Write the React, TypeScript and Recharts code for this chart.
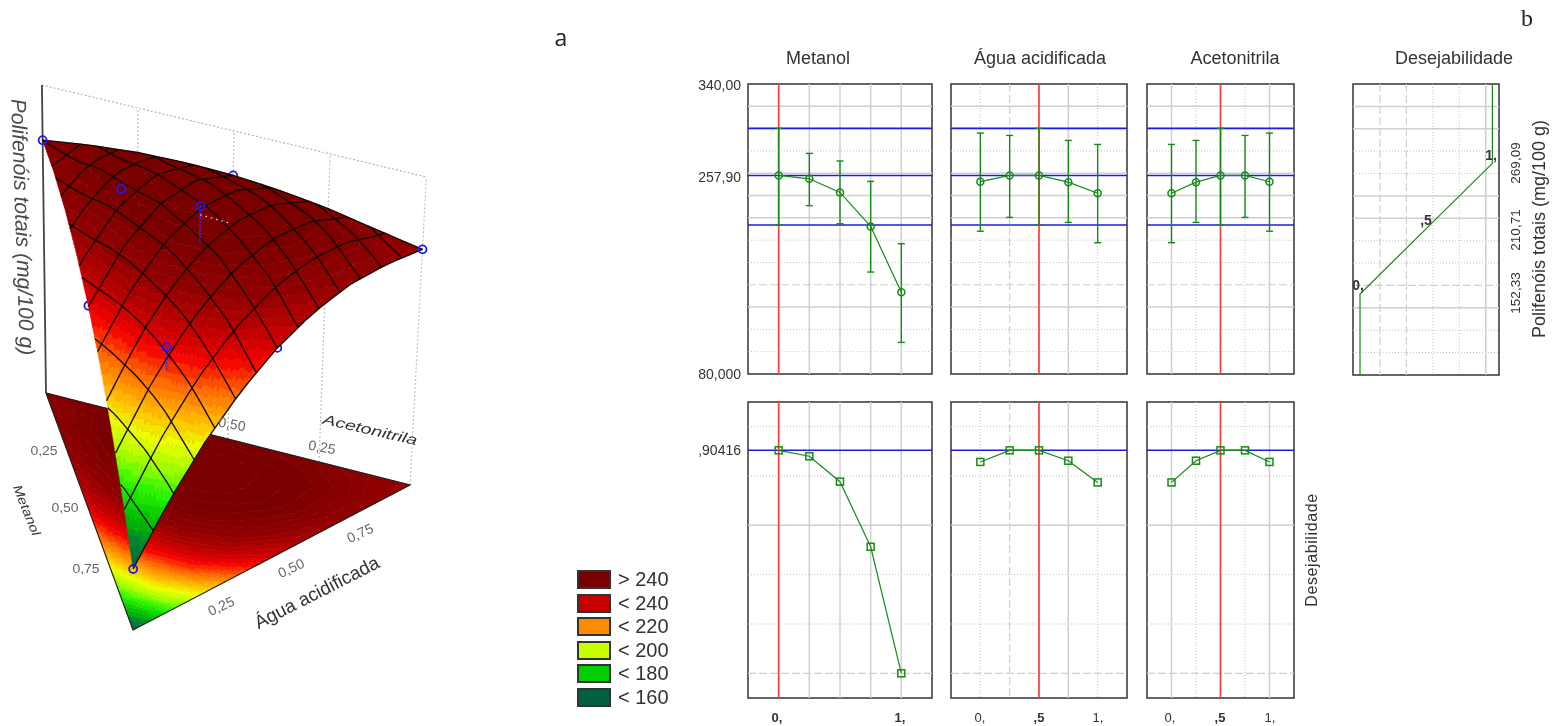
import React from "react";
import {
  ComposedChart, ScatterChart, Scatter, Line, ErrorBar, XAxis, YAxis, ReferenceLine, ReferenceArea,
} from "recharts";

// ---------- profile data ----------
const levels = [0, 0.25, 0.5, 0.75, 1];
const metanolMean = [258, 255, 242.8, 212.3, 153.2];
const metanolLow = [213.6, 230.9, 214.7, 171.4, 108.3];
const metanolHigh = [300.2, 277.8, 271, 252.7, 196.8];
const aguaMean = [252.4, 258, 258, 252, 242];
const aguaLow = [208, 220.4, 213.6, 215.9, 197.7];
const aguaHigh = [296, 293.9, 300.2, 289.4, 285.8];
const acetoMean = [242, 252, 258, 258, 252.4];
const acetoLow = [197.7, 215.9, 213.6, 220.4, 208];
const acetoHigh = [285.8, 289.4, 300.2, 293.9, 296];
const desMetanol = [0.904, 0.88, 0.777, 0.513, 0];
const desAgua = [0.857, 0.904, 0.904, 0.862, 0.774];
const desAceto = [0.774, 0.862, 0.904, 0.904, 0.857];
const desCurveD = [1, 1, 0, 0];
const desCurveV = [340, 269.09, 152.33, 80];
const blueLevels = [300.2, 257.9, 213.6];
const desTarget = 0.90416;
const topTicks = [320, 300, 280, 260, 240, 220, 200, 180, 160, 140, 120, 100];
const topTickStyles = ["s", "s", "o", "s", "s", "s", "o", "o", "d", "s", "o", "o"];
const lowTicks = [1, 0.8, 0.6, 0.4, 0.2, 0];
const lowTickStyles = ["o", "o", "s", "o", "o", "d"];
const metanolXStyles = ["n", "s", "s", "s", "s"];
const aguaXStyles = ["o", "d", "n", "s", "o"];
const acetoXStyles = ["s", "o", "n", "o", "s"];
const desXTicks = [0.15, 0.35, 0.55, 0.75, 0.95];
const desXStyles = ["d", "d", "o", "o", "s"];

// ---------- surface data: polyphenols by metanol row (eighths), água rising along the row ----------
const surfaceRows = [
  [252.4, 255.8, 257.9, 258.6, 258, 256, 252.7, 248, 243.5],
  [250.9, 258.4, 263, 265, 264.1, 260.5, 254.2, 245.1],
  [246.3, 256.3, 262.2, 263.9, 261.5, 254.9, 244.1],
  [238.6, 249.8, 255.5, 255.6, 250.1, 239.1],
  [227.7, 238.7, 242.8, 239.9, 230],
  [213.7, 223.1, 224.2, 216.8],
  [196.6, 203, 199.6],
  [176.4, 178.3],
  [153],
];
// metanol, água, acetonitrila, value
const pointsBehind = [[0, 0.5, 0.5, 258], [0.5, 0, 0.5, 228], [0.5, 0.5, 0, 230]];
const pointsFront = [
  [0, 0, 1, 252.4], [0.167, 0.167, 0.666, 255.6], [0.333, 0.333, 0.334, 275],
  [0, 1, 0, 243.5], [0.667, 0.167, 0.166, 235], [1, 0, 0, 153],
];
const stems = [
  [[0.333, 0.333, 0.334, 275], [0.333, 0.333, 0.334, 256]],
  [[0.667, 0.167, 0.166, 235], [0.667, 0.167, 0.166, 223]],
];
const whiteDots = [[0.333, 0.333, 0.334, 270.5], [0.1, 0.47, 0.43, 244]];
const legendLabels = ["> 240", "< 240", "< 220", "< 200", "< 180", "< 160"];
const legendColors = ["#7a0000", "#c80000", "#ff8a00", "#c8ff00", "#00d000", "#006040"];

// ---------- projection & colour ----------
const Z0 = 121.4, ZK = 1.93, ZTOP = 281;
function project(m: number, a: number, c: number, z: number) {
  const bx = c * 46 + a * 410 + m * 133;
  const by = c * 393 + a * 485 + m * 630;
  const h = (z - Z0) * ZK;
  return { x: bx + (bx - 119) * h * 1.82e-4, y: by - h };
}
function valueAt(m0: number, a0: number) {
  const u = Math.max(0, Math.min(m0 * 8, 8)), v = Math.max(0, Math.min(a0 * 8, 8 - Math.max(0, Math.min(m0 * 8, 8))));
  const i = Math.min(Math.floor(u), 8), j = Math.min(Math.floor(v), 8 - i);
  const g = (p: number, q: number) => surfaceRows[p][q];
  if (i + j >= 8) return g(i, j);
  const fu = u - i, fv = v - j;
  if (fu + fv <= 1 || i + j + 2 > 8) return g(i, j) + fu * (g(i + 1, j) - g(i, j)) + fv * (g(i, j + 1) - g(i, j));
  return g(i + 1, j + 1) + (1 - fu) * (g(i, j + 1) - g(i + 1, j + 1)) + (1 - fv) * (g(i + 1, j) - g(i + 1, j + 1));
}
const colorStops: [number, number[]][] = [
  [148, [0, 90, 64]], [160, [0, 120, 60]], [170, [0, 190, 0]], [180, [40, 245, 0]], [190, [170, 255, 0]],
  [198, [235, 255, 0]], [206, [255, 190, 0]], [216, [255, 110, 0]], [226, [245, 0, 0]], [236, [185, 0, 0]],
  [246, [145, 0, 0]], [258, [122, 0, 0]],
];
function colorFor(v: number) {
  if (v <= colorStops[0][0]) return `rgb(${colorStops[0][1].join(",")})`;
  for (let k = 1; k < colorStops.length; k++) {
    if (v <= colorStops[k][0]) {
      const [a, ca] = colorStops[k - 1], [b, cb] = colorStops[k];
      const t = (v - a) / (b - a);
      return `rgb(${ca.map((x, n) => Math.round(x + (cb[n] - x) * t)).join(",")})`;
    }
  }
  return "rgb(122,0,0)";
}
function buildBands(flat: boolean) {
  const N = 88, STEP = 3;
  const bands = new Map<number, string[]>();
  const node = (i: number, j: number) => {
    const m = i / N, a = j / N, c = 1 - m - a;
    const p = project(m, a, c, flat ? Z0 : valueAt(m, a));
    return `${p.x.toFixed(1)} ${p.y.toFixed(1)}`;
  };
  const add = (t: number[][]) => {
    const v = t.reduce((s, q) => s + valueAt(q[0] / N, q[1] / N), 0) / 3;
    const q = Math.round(v / STEP) * STEP;
    if (!bands.has(q)) bands.set(q, []);
    bands.get(q)!.push(`M${node(t[0][0], t[0][1])}L${node(t[1][0], t[1][1])}L${node(t[2][0], t[2][1])}Z`);
  };
  for (let i = 0; i < N; i++) for (let j = 0; j < N - i; j++) {
    add([[i, j], [i + 1, j], [i, j + 1]]);
    if (i + j + 2 <= N) add([[i + 1, j], [i + 1, j + 1], [i, j + 1]]);
  }
  return [...bands.entries()].sort((p, q) => p[0] - q[0]).map(([v, d]) => ({ x: 0, y: 0, d: d.join(""), fill: colorFor(v) }));
}
const baseBands = buildBands(true);
const surfaceBands = buildBands(false);

function meshLines() {
  const out: { x: number; y: number }[][] = [];
  for (let n = 0; n <= 9; n++) {
    const c = n / 10, pts = [];
    for (let s = 0; s <= 20; s++) {
      const m = ((1 - c) * s) / 20, a = 1 - c - m;
      pts.push(project(m, a, c, valueAt(m, a)));
    }
    out.push(pts);
  }
  for (let n = -6; n <= 6; n++) {
    const v = n / 7, pts = [];
    for (let s = 0; s <= 20; s++) {
      const c = ((1 - Math.abs(v)) * s) / 20, m = (1 - c + v) / 2, a = (1 - c - v) / 2;
      pts.push(project(m, a, c, valueAt(m, a)));
    }
    out.push(pts);
  }
  const edge = [];
  for (let s = 0; s <= 20; s++) { const a = s / 20; edge.push(project(0, a, 1 - a, valueAt(0, a))); }
  out.push(edge);
  return out;
}
const mesh = meshLines();
const W3 = 540, H3 = 726;
const noDot = () => <g />;
const bandShape = (p: any) => (
  <path d={p.payload.d} fill={p.payload.fill} stroke={p.payload.fill} strokeWidth={0.5} transform={`translate(${p.cx} ${p.cy})`} />
);
const ringShape = (p: any) => <circle cx={p.cx} cy={p.cy} r={4} fill="none" stroke="#1c1cf0" strokeWidth={1.8} />;
const asP = (q: number[]) => project(q[0], q[1], q[2], q[3]);
const wallAgua = [0.25, 0.5, 0.75, 1];

function Surface3D() {
  const seg = (pts: { x: number; y: number }[], stroke: string, w: number, dash?: string, key?: any) => (
    <Scatter key={key} data={pts} shape={noDot} isAnimationActive={false} lineType="joint"
      line={{ stroke, strokeWidth: w, strokeDasharray: dash }} />
  );
  return (
    <ScatterChart width={W3} height={H3} margin={{ top: 0, right: 0, bottom: 0, left: 0 }} style={{ position: "absolute", left: 0, top: 0 }}>
      <XAxis type="number" dataKey="x" domain={[0, W3]} hide />
      <YAxis type="number" dataKey="y" domain={[0, H3]} reversed hide />
      {seg([project(0, 0, 1, ZTOP), project(0, 1, 0, ZTOP)], "#b5b5b5", 1.2, "2 2", "walltop")}
      {wallAgua.map((a) => seg([project(0, a, 1 - a, Z0), project(0, a, 1 - a, ZTOP)], "#c0c0c0", 1.2, "2 2", "w" + a))}
      {seg([project(0, 0, 1, Z0), project(0, 0, 1, ZTOP)], "#444", 1.8, undefined, "zaxis")}
      <Scatter data={baseBands} shape={bandShape} isAnimationActive={false} />
      {seg([project(0, 0, 1, Z0), project(0, 1, 0, Z0), project(1, 0, 0, Z0), project(0, 0, 1, Z0)], "#222", 1.2, undefined, "baseedge")}
      <Scatter data={pointsBehind.map(asP)} shape={ringShape} isAnimationActive={false} />
      <Scatter data={surfaceBands} shape={bandShape} isAnimationActive={false} />
      {mesh.map((pts, i) => seg(pts, "rgba(15,8,0,0.95)", 1.4, undefined, "m" + i))}
      {stems.map((s, i) => seg(s.map(asP), "#3a2ad8", 1.5, "2 1", "st" + i))}
      {seg(whiteDots.map(asP), "#f4e4e4", 1.2, "1.5 4", "white")}
      <Scatter data={pointsFront.map(asP)} shape={ringShape} isAnimationActive={false} />
    </ScatterChart>
  );
}

// ---------- profile panels ----------
const GREEN = "#178a17";
const gridStyle = (k: string) =>
  k === "s" ? { stroke: "#cfcfcf", strokeWidth: 1.5 }
    : k === "d" ? { stroke: "#cfcfcf", strokeWidth: 1.2, strokeDasharray: "8 3" }
      : { stroke: "#c4c4c4", strokeWidth: 1, strokeDasharray: "1 2" };
const circleDot = (p: any) => <circle key={p.index} cx={p.cx} cy={p.cy} r={3.5} fill="none" stroke={GREEN} strokeWidth={1.5} />;
const squareDot = (p: any) => <rect key={p.index} x={p.cx - 3.5} y={p.cy - 3.5} width={7} height={7} fill="none" stroke={GREEN} strokeWidth={1.5} />;

function Panel(props: any) {
  const { left, top, width, height, yDomain, yTicks, yStyles, xDomain, xTicks, xStyles, red, blues, data, dataX, dataY, err, square, topMarks, dot } = props;
  const L = 2, R = 2 + width;
  const yTick = (p: any) => (
    <g stroke="#333" strokeWidth={1}>
      <line x1={L} x2={L + 3} y1={p.y} y2={p.y} />
      <line x1={R - 3} x2={R} y1={p.y} y2={p.y} />
    </g>
  );
  const xTick = (p: any) => topMarks ? <line x1={p.x} x2={p.x} y1={2} y2={5} stroke="#333" /> : <g />;
  return (
    <ComposedChart width={width + 4} height={height + 4} data={data} margin={{ top: 2, right: 2, bottom: 2, left: 2 }}
      style={{ position: "absolute", left: left - 2, top: top - 2 }}>
      <XAxis type="number" dataKey={dataX} domain={xDomain} ticks={xTicks} orientation="top" height={0} axisLine={false} tickLine={false} tick={xTick} allowDataOverflow interval={0} />
      <YAxis type="number" domain={yDomain} ticks={yTicks} width={0} axisLine={false} tickLine={false} tick={yTick} allowDataOverflow interval={0} />
      {yTicks.map((v: number, i: number) => <ReferenceLine key={"y" + i} y={v} {...gridStyle(yStyles[i])} />)}
      {xTicks.map((v: number, i: number) => xStyles[i] === "n" ? null : <ReferenceLine key={"x" + i} x={v} {...gridStyle(xStyles[i])} />)}
      {blues.map((v: number, i: number) => <ReferenceLine key={"b" + i} y={v} stroke="#1c1ce6" strokeWidth={1.6} />)}
      {red !== undefined && <ReferenceLine x={red} stroke="#ff3a3a" strokeWidth={1.7} />}
      <Line dataKey={dataY} stroke={GREEN} strokeWidth={1.2} isAnimationActive={false}
        dot={dot === false ? false : square ? squareDot : circleDot}>
        {err && <ErrorBar dataKey="err" width={3.5} stroke={GREEN} strokeWidth={1.4} isAnimationActive={false} />}
      </Line>
      <ReferenceArea x1={xDomain[0]} x2={xDomain[1]} y1={yDomain[0]} y2={yDomain[1]} fill="none" stroke="#333" strokeWidth={1.5} />
    </ComposedChart>
  );
}
const profile = (mean: number[], low: number[], high: number[]) =>
  levels.map((x, i) => ({ x, v: mean[i], err: [mean[i] - low[i], high[i] - mean[i]] }));
const desRow = (vals: number[]) => levels.map((x, i) => ({ x, v: vals[i] }));
const desCurve = desCurveD.map((x, i) => ({ x, v: desCurveV[i] }));

const columns = [
  { left: 748, width: 184, red: 0, xs: metanolXStyles, mean: metanolMean, low: metanolLow, high: metanolHigh, des: desMetanol },
  { left: 951, width: 176, red: 0.5, xs: aguaXStyles, mean: aguaMean, low: aguaLow, high: aguaHigh, des: desAgua },
  { left: 1147, width: 147, red: 0.5, xs: acetoXStyles, mean: acetoMean, low: acetoLow, high: acetoHigh, des: desAceto },
];

// ---------- text ----------
function T({ x, y, r = 0, size = 14, color = "#333", anchor = "c", style, children }: any) {
  const tx = anchor === "r" ? "-100%" : anchor === "l" ? "0" : "-50%";
  return (
    <span style={{ position: "absolute", left: x, top: y, fontSize: size, color, whiteSpace: "nowrap", lineHeight: 1,
      transform: `translate(${tx},-50%) rotate(${r}deg)`, ...style }}>{children}</span>
  );
}
const it = { fontStyle: "italic" };

export default function App() {
  return (
    <div style={{ position: "absolute", left: 0, top: 0, width: 1555, height: 726, overflow: "hidden", background: "#fff",
      fontFamily: "'Liberation Sans', Arial, sans-serif", filter: "blur(0.35px)" }}>
      <Surface3D />
      <T x={23} y={227} r={88} size={21.2} color="#4a4a4a" style={it}>Polifenóis totais (mg/100 g)</T>
      <T x={370} y={430} size={19.5} color="#333" style={{ ...it, transform: "translate(-50%,-50%) rotate(13deg) scale(1,0.72)" }}>Acetonitrila</T>
      <T x={317} y={593} r={-27} size={18.7} color="#333">Água acidificada</T>
      <T x={27} y={510} size={15} color="#333" style={{ ...it, transform: "translate(-50%,-50%) rotate(68deg) scale(1,0.85)" }}>Metanol</T>
      <T x={44} y={451} size={14} color="#666" style={{ transform: "translate(-50%,-50%) scale(1,0.85)" }}>0,25</T>
      <T x={65} y={508} size={14} color="#666" style={{ transform: "translate(-50%,-50%) scale(1,0.85)" }}>0,50</T>
      <T x={86} y={569} size={14} color="#666" style={{ transform: "translate(-50%,-50%) scale(1,0.85)" }}>0,75</T>
      <T x={221} y={606} r={-25} size={14} color="#666">0,25</T>
      <T x={291} y={568} r={-25} size={14} color="#666">0,50</T>
      <T x={360} y={533} r={-25} size={14} color="#666">0,75</T>
      <T x={232} y={424} r={10} size={14} color="#666">0,50</T>
      <T x={322} y={447} r={10} size={14} color="#666">0,25</T>

      {legendLabels.map((l, i) => (
        <React.Fragment key={l}>
          <div style={{ position: "absolute", left: 577, top: 570 + i * 23.6, width: 30, height: 15, background: legendColors[i], border: "2px solid #333" }} />
          <T x={618} y={579 + i * 23.6} anchor="l" size={20}>{l}</T>
        </React.Fragment>
      ))}
      <T x={561} y={37} size={23} color="#222" style={{ fontFamily: "'Open Sans'" }}>a</T>
      <T x={1527} y={18} size={24} color="#222" style={{ fontFamily: "'Liberation Serif'" }}>b</T>

      <T x={818} y={58} size={18}>Metanol</T>
      <T x={1040} y={58} size={18}>Água acidificada</T>
      <T x={1235} y={58} size={18}>Acetonitrila</T>
      <T x={1454} y={58} size={18}>Desejabilidade</T>
      <T x={741} y={85} anchor="r">340,00</T>
      <T x={741} y={177} anchor="r">257,90</T>
      <T x={741} y={374} anchor="r">80,000</T>
      <T x={741} y={450} anchor="r">,90416</T>

      {columns.map((c) => (
        <React.Fragment key={c.left}>
          <Panel left={c.left} top={84} width={c.width} height={290} xDomain={[-0.25, 1.25]} yDomain={[80, 340]}
            yTicks={topTicks} yStyles={topTickStyles} xTicks={levels} xStyles={c.xs} red={c.red} blues={blueLevels}
            data={profile(c.mean, c.low, c.high)} dataX="x" dataY="v" err />
          <Panel left={c.left} top={402} width={c.width} height={296} xDomain={[-0.25, 1.25]} yDomain={[-0.1, 1.1]}
            yTicks={lowTicks} yStyles={lowTickStyles} xTicks={levels} xStyles={c.xs} red={c.red} blues={[desTarget]}
            data={desRow(c.des)} dataX="x" dataY="v" square topMarks />
        </React.Fragment>
      ))}
      <Panel left={1353} top={84} width={146} height={291} xDomain={[-0.053, 1.05]} yDomain={[80, 340]}
        yTicks={topTicks} yStyles={["s", "s", "o", "o", "s", "s", "o", "o", "d", "s", "o", "o"]} xTicks={desXTicks} xStyles={desXStyles}
        blues={[]} data={desCurve} dataX="x" dataY="v" dot={false} />
      <T x={1358} y={285} size={14} style={{ fontWeight: "bold" }}>0,</T>
      <T x={1426} y={220} size={14} style={{ fontWeight: "bold" }}>,5</T>
      <T x={1491} y={155} size={14} style={{ fontWeight: "bold" }}>1,</T>
      <T x={1516} y={163} r={-90} size={13.5}>269,09</T>
      <T x={1516} y={230} r={-90} size={13.5}>210,71</T>
      <T x={1516} y={293} r={-90} size={13.5}>152,33</T>
      <T x={1539} y={229} r={-90} size={18}>Polifenóis totais (mg/100 g)</T>
      <T x={1312} y={550} r={-90} size={16} style={{ letterSpacing: 0.6 }}>Desejabilidade</T>

      <T x={777} y={717} size={13} style={{ fontWeight: "bold" }}>0,</T>
      <T x={900} y={717} size={13} style={{ fontWeight: "bold" }}>1,</T>
      <T x={980} y={717} size={13}>0,</T>
      <T x={1039} y={717} size={13} style={{ fontWeight: "bold" }}>,5</T>
      <T x={1098} y={717} size={13}>1,</T>
      <T x={1170} y={717} size={13}>0,</T>
      <T x={1220} y={717} size={13} style={{ fontWeight: "bold" }}>,5</T>
      <T x={1270} y={717} size={13}>1,</T>
    </div>
  );
}
